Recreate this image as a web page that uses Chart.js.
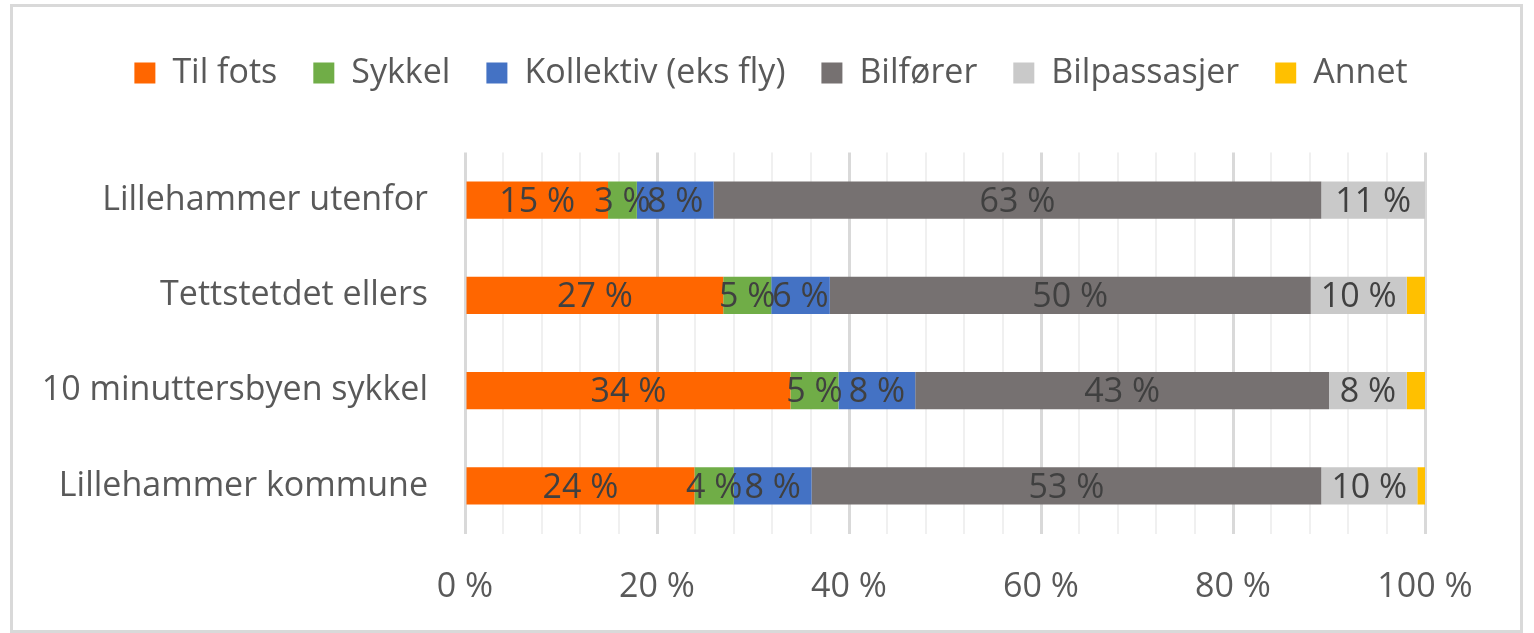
<!DOCTYPE html>
<html>
<head>
<meta charset="utf-8">
<script src="https://cdn.jsdelivr.net/npm/chart.js@4/dist/chart.umd.min.js"></script>
<style>
  html, body { margin: 0; padding: 0; background: #ffffff; }
  #wrap { position: relative; width: 1534px; height: 633px; }
</style>
</head>
<body>
<div id="wrap"><canvas id="c" width="1534" height="633"></canvas></div>
<script>
// ---- Data ----
const categories = ["Lillehammer utenfor", "Tettstetdet ellers", "10 minuttersbyen sykkel", "Lillehammer kommune"];
const seriesNames = ["Til fots", "Sykkel", "Kollektiv (eks fly)", "Bilfører", "Bilpassasjer", "Annet"];
const tilFots      = [14.9, 26.9, 33.9, 23.9];
const sykkel       = [3.0, 5.0, 5.0, 4.1];
const kollektiv    = [8.0, 6.1, 8.0, 8.1];
const bilforer     = [63.3, 50.1, 43.1, 53.1];
const bilpassasjer = [10.8, 10.0, 8.1, 10.0];
const annet        = [0.0, 1.9, 1.9, 0.8];
const xTickStep = 4;
const xLabelEvery = 20;

const colors = ["#FF6600", "#70AD47", "#4472C4", "#767171", "#C9C9C9", "#FFC000"];
const seriesValues = [tilFots, sykkel, kollektiv, bilforer, bilpassasjer, annet];

const FONT = "'Open Sans', 'DejaVu Sans', sans-serif";
const FSIZE = 34;
const TEXT = "#595959";

const frame = {
  id: 'frame',
  beforeDraw(chart) {
    const ctx = chart.ctx;
    ctx.save();
    ctx.fillStyle = '#ffffff';
    ctx.fillRect(0, 0, chart.width, chart.height);
    ctx.strokeStyle = '#d9d9d9';
    ctx.lineWidth = 3;
    ctx.strokeRect(11.5, 5.5, 1510, 626);
    ctx.restore();
  }
};

const legendFix = {
  id: 'legendFix',
  beforeUpdate(chart) {
    const lg = chart.legend;
    if (lg && !lg._patched) {
      const orig = lg.fit;
      lg.fit = function () { orig.call(this); this.height = 132.5; };
      lg._patched = true;
    }
  },
  afterLayout(chart) {
    const lg = chart.legend;
    if (lg) { lg.left = 8; lg.right = 1534; }
  }
};

const dataLabels = {
  id: 'dataLabels',
  afterDatasetsDraw(chart) {
    const ctx = chart.ctx;
    ctx.save();
    ctx.font = FSIZE + "px " + FONT;
    ctx.fillStyle = '#404040';
    ctx.textAlign = 'center';
    ctx.textBaseline = 'middle';
    chart.data.datasets.forEach((ds, di) => {
      if (di === 5) return; // "Annet" has no labels
      const meta = chart.getDatasetMeta(di);
      meta.data.forEach((bar, i) => {
        const v = ds.data[i];
        if (!v || v < 1) return;
        const cx = (bar.x + bar.base) / 2;
        ctx.fillText(Math.round(v) + " %", cx, bar.y + 2);
      });
    });
    ctx.restore();
  }
};

new Chart(document.getElementById('c'), {
  type: 'bar',
  data: {
    labels: categories,
    datasets: seriesNames.map((name, k) => ({
      label: name,
      data: seriesValues[k],
      backgroundColor: colors[k],
      borderWidth: 0,
      categoryPercentage: 1.0,
      barPercentage: 0.39
    }))
  },
  options: {
    indexAxis: 'y',
    responsive: false,
    animation: false,
    devicePixelRatio: 1,
    layout: { padding: { top: 20, left: 0, right: 109, bottom: 0 } },
    plugins: {
      legend: {
        position: 'top',
        align: 'center',
        labels: {
          boxWidth: 21,
          boxHeight: 21,
          padding: 36,
          color: TEXT,
          font: { family: FONT, size: FSIZE }
        }
      },
      tooltip: { enabled: false }
    },
    scales: {
      x: {
        stacked: true,
        min: 0,
        max: 100,
        border: { display: false },
        grid: {
          drawTicks: false,
          color: (c) => (c.tick && c.tick.value % xLabelEvery === 0) ? '#d9d9d9' : '#f0f0f0',
          lineWidth: (c) => (c.tick && c.tick.value % xLabelEvery === 0) ? 3 : 2
        },
        ticks: {
          stepSize: xTickStep,
          autoSkip: false,
          maxRotation: 0,
          minRotation: 0,
          padding: 33,
          color: TEXT,
          font: { family: FONT, size: FSIZE },
          callback: (v) => (v % xLabelEvery === 0) ? (v + " %") : ""
        },
        afterFit(scale) { scale.height = 99.5; }
      },
      y: {
        stacked: true,
        border: { display: false },
        grid: { display: false, drawTicks: false },
        ticks: {
          padding: 37,
          color: TEXT,
          font: { family: FONT, size: FSIZE }
        },
        afterFit(scale) { scale.width = 465; }
      }
    }
  },
  plugins: [frame, legendFix, dataLabels]
});
</script>
</body>
</html>
